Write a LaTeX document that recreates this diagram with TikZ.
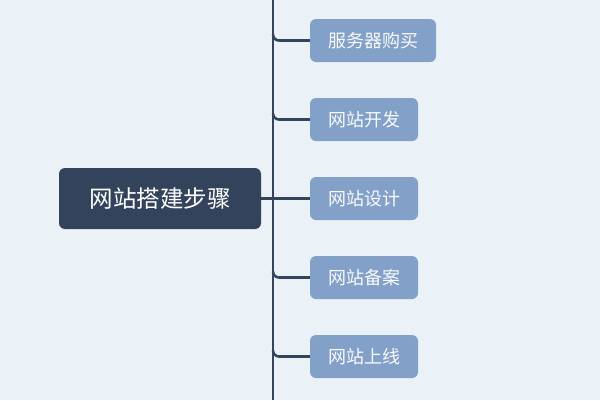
\documentclass[tikz,border=0pt]{standalone}
\usepackage{fontspec}
\newfontfamily\cjk{Noto Sans CJK SC}
\definecolor{bgc}{HTML}{EBF2F7}
\definecolor{rootc}{HTML}{33435B}
\definecolor{childc}{HTML}{82A0C8}
\definecolor{linec}{HTML}{34445C}
\begin{document}
\begin{tikzpicture}[x=1pt,y=-1pt,
  rootbox/.style={fill=rootc,rounded corners=6pt,minimum width=202pt,minimum height=61pt,inner sep=0pt,text=white,font=\cjk\fontsize{23.5}{26}\selectfont},
  childbox/.style={fill=childc,rounded corners=6pt,minimum height=43pt,inner sep=0pt,text=white!95!childc,font=\cjk\fontsize{18}{21}\selectfont},
  conn/.style={draw=linec,line width=2.6pt},
  branch/.style={conn,rounded corners=6pt}]
\fill[bgc] (0,0) rectangle (600,400);
\useasboundingbox (0,0) rectangle (600,400);
\node[rootbox] (root) at (160,198.5) {网站搭建步骤};
\node[childbox,minimum width=126pt] (c1) at (373,40.5) {服务器购买};
\node[childbox,minimum width=108pt] (c2) at (364,119.5) {网站开发};
\node[childbox,minimum width=108pt] (c3) at (364,198.5) {网站设计};
\node[childbox,minimum width=108pt] (c4) at (364,277.5) {网站备案};
\node[childbox,minimum width=108pt] (c5) at (364,356.5) {网站上线};
\coordinate (ttop) at (273,0);
\coordinate (tbot) at (273,400);
\foreach \c in {c1,c2,c4,c5}{
  \draw[branch] (\c.west -| ttop) ++(0,-6) |- (\c.west);
}
\draw[conn] (c3.west -| ttop) -- (c3.west);
\draw[conn] (root.east) -- (root.east -| ttop);
\draw[conn] (ttop) -- (tbot);
\end{tikzpicture}
\end{document}
